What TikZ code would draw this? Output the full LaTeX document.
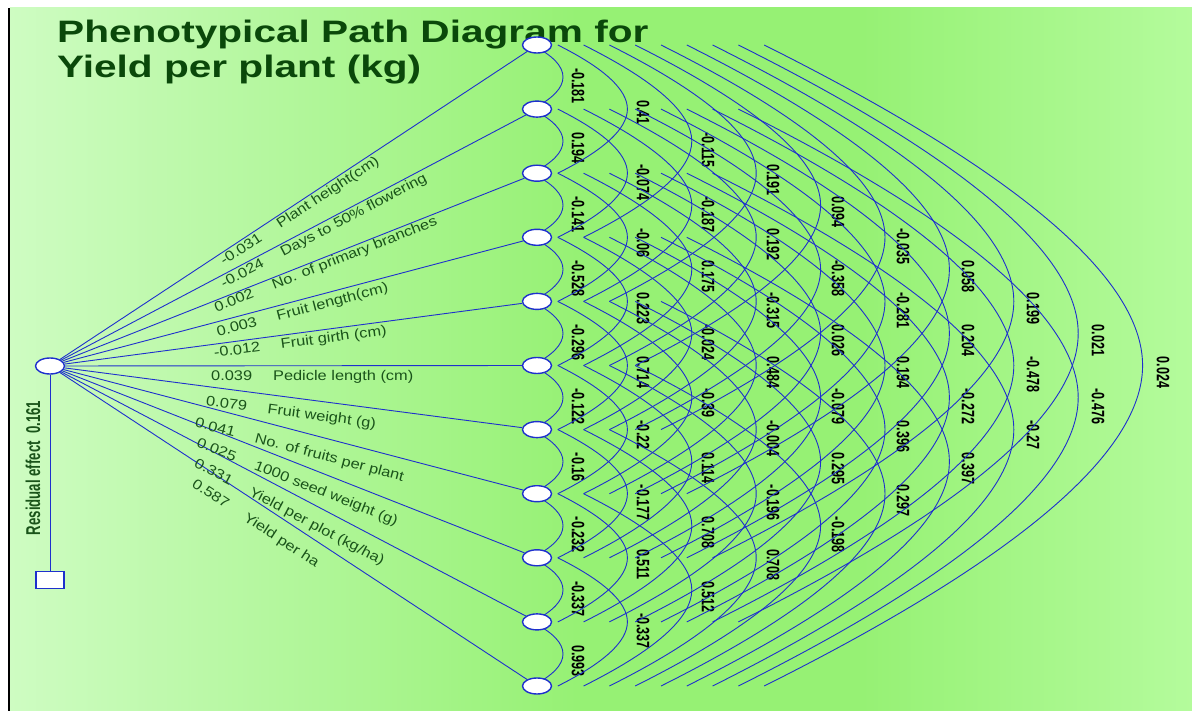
\documentclass[tikz,border=0pt]{standalone}
\usepackage{graphicx}
\usepackage{fontspec}
\setmainfont{Liberation Sans}
\usetikzlibrary{shapes.geometric,calc,backgrounds}

\definecolor{pathblue}{RGB}{30,48,205}
\definecolor{lblgreen}{RGB}{26,84,26}
\definecolor{titlegreen}{RGB}{10,72,10}
\definecolor{bgleft}{RGB}{206,252,194}
\definecolor{bgmid}{RGB}{150,241,116}
\definecolor{bgright}{RGB}{180,251,156}

\pgfdeclarehorizontalshading{bgshade}{100bp}{color(0bp)=(bgleft); color(25bp)=(bgleft); color(49bp)=(bgmid); color(61bp)=(bgmid); color(75bp)=(bgright); color(100bp)=(bgright)}

\tikzset{
  var/.style={ellipse, draw=pathblue, fill=white, line width=1.4pt, minimum width=29pt, minimum height=16pt, inner sep=0pt},
  resbox/.style={rectangle, draw=pathblue, fill=white, line width=1.4pt, minimum width=28pt, minimum height=17pt, inner sep=0pt},
  link/.style={pathblue, line width=0.9pt},
  corr/.style={rotate=-90, anchor=west, inner sep=0pt, font=\fontsize{18}{18}\selectfont\bfseries},
  dlabel/.style={anchor=west, inner sep=0pt, text=lblgreen, font=\fontsize{14}{14}\selectfont},
  heading/.style={anchor=base west, inner sep=0pt, text=titlegreen, font=\fontsize{31}{31}\selectfont\bfseries}
}

\begin{document}
\begin{tikzpicture}[x=1pt,y=-1pt]
    \useasboundingbox (0,0) rectangle (1192,711);

    \node[heading] (title1) at (57,43) {\scalebox{1.31}[1]{Phenotypical Path Diagram for}};
    \node[heading] (title2) at (57,78) {\scalebox{1.31}[1]{Yield per plant (kg)}};

    \node[var] (yield) at (50,366) {};
    \node[resbox] (res) at (50,580) {};
    \foreach \i in {1,...,11}
        \node[var] (n\i) at (537,{45+64.1*(\i-1)}) {};

    \node[rotate=90, inner sep=0pt, text=lblgreen, font=\fontsize{20}{20}\selectfont\bfseries] (reslabel) at (33,468)
        {\scalebox{0.66}[1]{Residual effect\ \ 0.161}};

    \foreach \i/\x/\y/\a/\t in {
        1/222/263/33.35/{-0.031 \quad Plant height(cm)},
        2/222/285/27.77/{-0.024 \quad Days to 50\% flowering},
        3/215/309/21.55/{0.002 \quad No. of primary branches},
        4/217/333/14.75/{0.003 \quad Fruit length(cm)},
        5/214/354/7.5/{-0.012 \quad Fruit girth (cm)},
        6/211/377/0/{0.039 \quad Pedicle length (cm)},
        7/206/402/-7.5/{0.079 \quad Fruit weight (g)},
        8/195/423/-14.75/{0.041 \quad No. of fruits per plant},
        9/197/443/-21.55/{0.025 \quad 1000 seed weight (g)},
        10/195/463/-27.77/{0.331 \quad Yield per plot (kg/ha)},
        11/193/483/-33.35/{0.587 \quad Yield per ha}}
        \node[dlabel, rotate=\a] (d\i) at (\x,\y) {\scalebox{1.17}[1]{\t}};

    \begin{scope}[on background layer]
        \fill[white] (0,0) rectangle (1192,711);
        \shade[shading=bgshade] (10,8) rectangle (1192,711);
        \draw[line width=2pt] (9,8) -- (9,711);

        \foreach \i in {1,...,11}
            \draw[link] (yield) -- (n\i);
        \draw[link] (yield) -- (res);

        \foreach \k/\vals in {
            1/{-0.181,0.194,-0.141,-0.528,-0.296,-0.122,-0.16,-0.232,-0.337,0.993},
            2/{0.41,-0.074,-0.06,0.223,0.714,-0.22,-0.177,0.511,-0.337},
            3/{-0.115,-0.187,0.175,-0.024,-0.39,0.114,0.708,0.512},
            4/{0.191,0.192,-0.315,0.484,-0.004,-0.196,0.708},
            5/{0.094,-0.358,0.026,-0.079,0.295,-0.198},
            6/{-0.035,-0.281,0.194,0.396,0.297},
            7/{0.058,0.204,-0.272,0.397},
            8/{0.199,-0.478,-0.27},
            9/{0.021,-0.476},
            10/{0.024}}{
            \pgfmathsetmacro\xstart{-5+25.8*(\k-1)}
            \pgfmathsetmacro\xtip{26+64.4*(\k-1)}
            \pgfmathsetmacro\xlab{41+65*(\k-1)}
            \pgfmathsetmacro\cpx{2/3*(\xtip-\xstart)}
            \pgfmathsetmacro\cpy{(\xtip-\xstart)/3}
            \pgfmathsetmacro\cpt{2/3*(32.05*\k-(\xtip-\xstart)/2)}
            \foreach \v [count=\i] in \vals {
                \pgfmathtruncatemacro\j{\i+\k}
                \draw[link] ($(n\i)+(\xstart,0)$) .. controls +(\cpx,\cpy) and +(0,-\cpt) .. ($(n\i)!.5!(n\j)+(\xtip,0)$)
                    .. controls +(0,\cpt) and +(\cpx,-\cpy) .. ($(n\j)+(\xstart,0)$);
                \node[corr] (r\i-\j) at ($(n\i)!.5!(n\j)+(\xlab,-9)$) {\scalebox{0.7}[1]{\v}};
            }
        }
    \end{scope}
\end{tikzpicture}
\end{document}
